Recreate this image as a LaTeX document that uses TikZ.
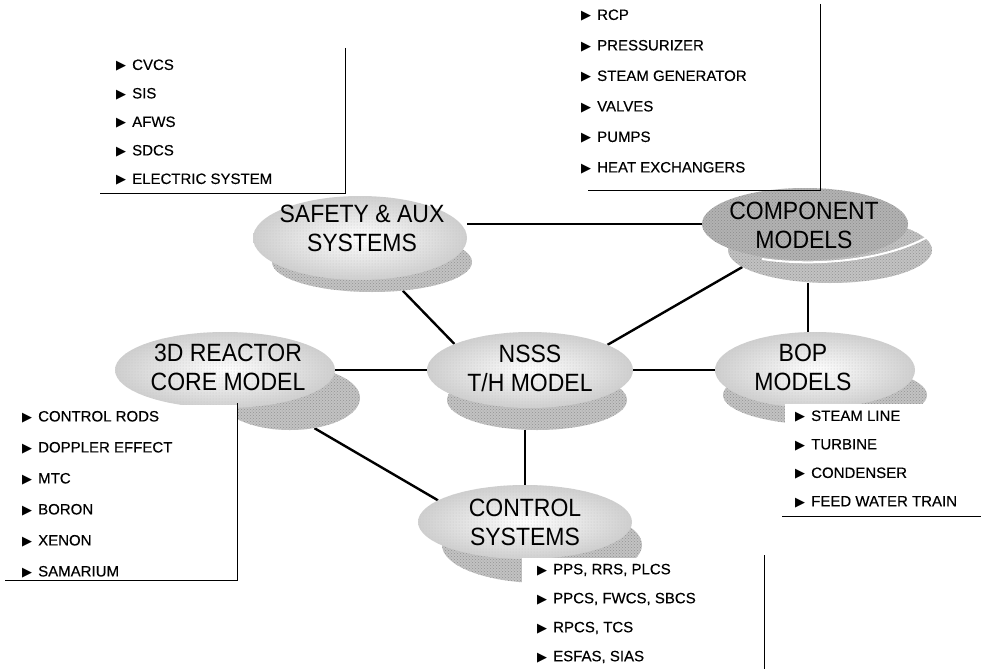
\documentclass[tikz,border=0pt]{standalone}
\usepackage{fontspec}
\setmainfont{Liberation Sans}
\newfontfamily\discfont[FakeStretch=0.92]{Liberation Sans}
\newfontfamily\itemfont[FakeBold=0.35]{Liberation Sans}
\newfontfamily\symfont{DejaVu Sans}
\usetikzlibrary{shapes.geometric,patterns,backgrounds}
\newcommand{\mk}{{\symfont\fontsize{13}{13}\selectfont ▶}\hspace{6pt}}

\begin{document}
\begin{tikzpicture}[x=1pt,y=-1pt,
  disctop/.style={ellipse, inner sep=0pt, draw=none, inner color=white, outer color=gray!38,
    postaction={pattern=dots, pattern color=gray!45}},
  darktop/.style={ellipse, inner sep=0pt, draw=none, preaction={fill=gray!60}, pattern=crosshatch dots, pattern color=gray!90},
  discbase/.style={ellipse, inner sep=0pt, draw=none, preaction={fill=gray!48}, pattern=crosshatch dots, pattern color=gray!85},
  disclabel/.style={align=center, font=\discfont\fontsize{25}{29}\selectfont, inner sep=0pt},
  item/.style={anchor=west, inner sep=0pt, font=\itemfont\fontsize{15}{15}\selectfont},
  conn/.style={line width=2.4pt, black},
  boxline/.style={line width=1pt, black}]
\useasboundingbox (0,0) rectangle (981,669);

% ---- discs: darker base first, then the lighter top ----
\node[discbase, minimum width=200, minimum height=60] (safsh) at (372,262) {};
\node[disctop,  minimum width=214, minimum height=84] (saf)   at (360,238) {};
\node[disclabel] (safl) at (362,228) {SAFETY \& AUX\\SYSTEMS};

\node[discbase, minimum width=204, minimum height=66] (compsh) at (830,250) {};
\node[darktop,  minimum width=206, minimum height=72] (comp)   at (805,224) {};
\draw[white, line width=2pt] (762,259) .. controls (822,268) and (892,258) .. (929,236);
\node[disclabel] (compl) at (804,225) {COMPONENT\\MODELS};

\node[discbase, minimum width=140, minimum height=64] (coresh) at (290,398) {};
\node[disctop,  minimum width=220, minimum height=76] (core)   at (225,370) {};
\node[disclabel] (corel) at (228,367) {3D REACTOR\\CORE MODEL};

\node[discbase, minimum width=180, minimum height=60] (nsssh) at (537,400) {};
\node[disctop,  minimum width=206, minimum height=76] (nsss)  at (530,370) {};
\node[disclabel] (nsssl) at (530,368) {NSSS\\T/H MODEL};

\node[discbase, minimum width=204, minimum height=60] (bopsh) at (825,395) {};
\node[disctop,  minimum width=200, minimum height=76] (bop)   at (815,370) {};
\node[disclabel] (bopl) at (803,367) {BOP\\MODELS};

\node[discbase, minimum width=200, minimum height=76] (ctrlsh) at (542,545) {};
\node[disctop,  minimum width=214, minimum height=74] (ctrl)   at (525,522) {};
\node[disclabel] (ctrll) at (525,522) {CONTROL\\SYSTEMS};

% ---- item lists on white panels ----
\fill[white] (0,405) rectangle (237,580);
\fill[white] (785,404) rectangle (981,516);
\fill[white] (522,558) rectangle (764,669);
\draw[boxline] (345,48) -- (345,193) -- (100,193);
\draw[boxline] (820,4) -- (820,190) -- (588,190);
\draw[boxline] (237,403) -- (237,580) -- (5,580);
\draw[boxline] (782,516) -- (981,516);
\draw[boxline] (764,555) -- (764,669);

\foreach \t [count=\i] in {CVCS,SIS,AFWS,SDCS,ELECTRIC SYSTEM}
  \node[item] (sa\i) at (116,{37+28.5*\i}) {\mk\t};
\foreach \t [count=\i] in {RCP,PRESSURIZER,STEAM GENERATOR,VALVES,PUMPS,HEAT EXCHANGERS}
  \node[item] (cm\i) at (581,{-15+30.5*\i}) {\mk\t};
\foreach \t [count=\i] in {CONTROL RODS,DOPPLER EFFECT,MTC,BORON,XENON,SAMARIUM}
  \node[item] (rc\i) at (22,{386+31*\i}) {\mk\t};
\foreach \t [count=\i] in {STEAM LINE,TURBINE,CONDENSER,FEED WATER TRAIN}
  \node[item] (bp\i) at (795,{388+28.5*\i}) {\mk\t};
\foreach \t [count=\i] in {{PPS, RRS, PLCS},{PPCS, FWCS, SBCS},{RPCS, TCS},{ESFAS, SIAS}}
  \node[item] (cs\i) at (537,{541+29*\i}) {\mk\t};

\begin{pgfonlayer}{background}
  % connectors between the discs
  \draw[conn] (saf.east |- comp.west) -- (comp.west);
  \draw[conn] (safsh.-43) -- (nsss.161);
  \draw[conn] (compsh.191) -- (nsss.18);
  \draw[conn] (bop.100 |- compsh.south) -- (bop.100);
  \draw[conn] (nsss.east) -- (bop.west);
  \draw[conn] (core.east) -- (nsss.west);
  \draw[conn] (ctrl.north |- nsssh.south) -- (ctrl.north);
  \draw[conn] (coresh.-51) -- (ctrl.166);
\end{pgfonlayer}
\end{tikzpicture}
\end{document}
